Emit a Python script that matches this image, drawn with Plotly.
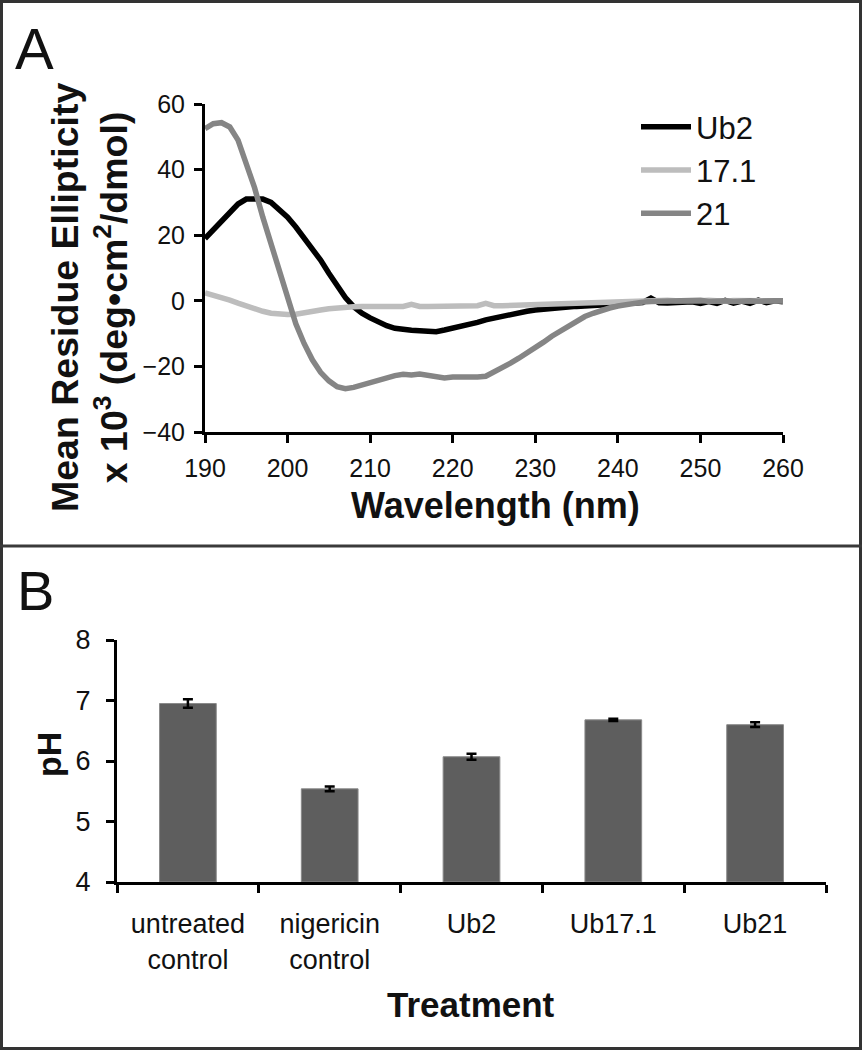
import plotly.graph_objects as go

# ---------------- Panel A data (CD spectra) ----------------
wavelength = [190, 191, 192, 193, 194, 195, 196, 197, 198, 199,
              200, 201, 202, 203, 204, 205, 206, 207, 208, 209,
              210, 211, 212, 213, 214, 215, 216, 217, 218, 219,
              220, 221, 222, 223, 224, 225, 226, 227, 228, 229,
              230, 231, 232, 233, 234, 235, 236, 237, 238, 239,
              240, 241, 242, 243, 244, 245, 246, 247, 248, 249,
              250, 251, 252, 253, 254, 255, 256, 257, 258, 259, 260]

ub2 = [19, 21.5, 24.5, 27, 29.5, 31, 31.2, 31, 30, 28,
       25.5, 22.5, 19.3, 16, 12.4, 8.4, 4.6, 1, -1.8, -3.8,
       -5.2, -6.5, -7.6, -8.4, -8.8, -9, -9.1, -9.2, -9.4, -8.9,
       -8.4, -7.9, -7.4, -6.6, -5.8, -5.2, -4.7, -4.1, -3.6, -3.2,
       -2.8, -2.5, -2.2, -2.0, -1.8, -1.7, -1.6, -1.5, -1.4, -1.2,
       -1.0, -0.8, -0.7, -0.5, 0.8, -0.6, -0.7, -0.7, -0.7, -0.3,
       -0.8, -0.2, -0.8, 0.1, -0.7, -0.1, -0.8, 0.2, -0.6, 0, -0.3]

s17_1 = [2.4, 1.8, 1.0, 0.2, -0.7, -1.6, -2.5, -3.2, -3.8, -4.1,
         -4.2, -4.1, -3.8, -3.3, -2.8, -2.4, -2.1, -1.9, -1.8, -1.7,
         -1.7, -1.7, -1.6, -1.7, -1.7, -1.1, -1.7, -1.7, -1.6, -1.6,
         -1.6, -1.6, -1.6, -1.5, -0.8, -1.5, -1.5, -1.4, -1.3, -1.3,
         -1.2, -1.2, -0.9, -1.1, -0.8, -1.0, -0.9, -0.8, -0.6, -0.5,
         -0.4, -0.3, -0.2, -0.1, 0, 0, 0.2, 0, -0.1, 0.1,
         0, 0.2, 0, -0.1, 0.1, 0, 0.2, 0, 0.1, 0, 0]

s21 = [52.5, 54, 54.3, 53, 49, 42, 34.5, 25.5, 17.5, 9.5,
       1, -7, -13, -18, -21.8, -24.4, -26.2, -26.8, -26.4, -25.6,
       -24.8, -24, -23.4, -22.8, -22.4, -22.6, -22.3, -22.7, -23.2, -23.5,
       -23.2, -23.3, -23.2, -23.2, -23, -21.8, -20.5, -19, -17.5, -16,
       -14.3, -12.6, -10.8, -9.2, -7.5, -6, -4.8, -3.8, -2.8, -2.2,
       -1.6, -1.1, -0.7, -0.4, -0.2, -0.1, 0, 0.1, -0.1, 0,
       0.2, -0.2, 0.1, 0, -0.2, 0.1, 0, -0.1, 0.1, 0, 0]

series_names = ["Ub2", "17.1", "21"]
series_colors = ["#000000", "#bdbdbd", "#858585"]

# ---------------- Panel B data (pH) ----------------
treatments = ["untreated<br>control", "nigericin<br>control", "Ub2", "Ub17.1", "Ub21"]
ph_mean = [6.95, 5.54, 6.07, 6.68, 6.60]
ph_err = [0.07, 0.04, 0.05, 0.02, 0.04]

FONT = "Liberation Sans, Arial, sans-serif"
W, H = 862, 1050

def px_x(p):
    return p / W

def px_y(p):
    return 1 - p / H

fig = go.Figure()

for name, vals, col in zip(series_names, [ub2, s17_1, s21], series_colors):
    fig.add_trace(go.Scatter(
        x=wavelength, y=vals, mode="lines", name=name,
        line=dict(color=col, width=5.5),
        legendgroup=name,
        xaxis="x", yaxis="y",
    ))

fig.add_trace(go.Bar(
    x=treatments, y=[m - 4 for m in ph_mean], base=4,
    marker=dict(color="#5e5e5e", line=dict(color="#8a8a8a", width=1)),
    width=0.4,
    error_y=dict(type="data", array=ph_err, color="#000000", thickness=2.5, width=5),
    showlegend=False,
    xaxis="x2", yaxis="y2",
))

axis_common = dict(
    showline=True, linecolor="#000000", linewidth=3,
    ticks="outside", ticklen=8, tickwidth=2.5, tickcolor="#000000",
    showgrid=False, zeroline=False, mirror=False, automargin=False,
)

fig.update_layout(
    template="none",
    width=W, height=H,
    margin=dict(l=0, r=0, t=0, b=0, pad=0, autoexpand=False),
    paper_bgcolor="white", plot_bgcolor="white",
    font=dict(family=FONT, color="#111111"),
    xaxis=dict(domain=[px_x(205), px_x(783)], range=[190, 260], dtick=10,
               anchor="y", tickfont=dict(size=25), ticklabelstandoff=4,
               **axis_common),
    yaxis=dict(domain=[px_y(432), px_y(104)], range=[-40, 60], dtick=20,
               anchor="x", tickfont=dict(size=25), ticklabelstandoff=4,
               **axis_common),
    xaxis2=dict(domain=[px_x(117), px_x(826)], anchor="y2", type="category",
                tickson="boundaries", tickfont=dict(size=27), ticklabelstandoff=16,
                **axis_common),
    yaxis2=dict(domain=[px_y(882), px_y(640)], range=[4, 8], dtick=1,
                anchor="x2", tickfont=dict(size=27), ticklabelstandoff=10,
                **axis_common),
    legend=dict(x=px_x(636), y=px_y(100), xanchor="left", yanchor="top",
                font=dict(size=31, family=FONT, color="#111111"),
                bgcolor="rgba(0,0,0,0)", borderwidth=0,
                tracegroupgap=0, itemwidth=50),
    showlegend=True,
    bargap=0.6,
)

annotations = [
    dict(text="A", x=px_x(34), y=px_y(49), font=dict(size=58, family=FONT, color="#111111")),
    dict(text="B", x=px_x(35), y=px_y(590), font=dict(size=56, family=FONT, color="#111111")),
    dict(text="<b>Mean Residue Ellipticity</b><br><b>x 10<sup>3</sup> (deg•cm<sup>2</sup>/dmol)</b>",
         x=px_x(90), y=px_y(298), textangle=-90,
         font=dict(size=37.5, family=FONT, color="#111111")),
    dict(text="<b>Wavelength (nm)</b>", x=px_x(495), y=px_y(506),
         font=dict(size=36, family=FONT, color="#111111")),
    dict(text="<b>Treatment</b>", x=px_x(471), y=px_y(1004),
         font=dict(size=35, family=FONT, color="#111111")),
    dict(text="<b>pH</b>", x=px_x(49), y=px_y(755), textangle=-90,
         font=dict(size=34, family=FONT, color="#111111")),
]
for a in annotations:
    a.update(xref="paper", yref="paper", showarrow=False, xanchor="center", yanchor="middle")
fig.update_layout(annotations=annotations)

fig.update_layout(shapes=[
    dict(type="rect", xref="paper", yref="paper", x0=0, x1=1, y0=0, y1=1,
         line=dict(color="#333333", width=6), fillcolor="rgba(0,0,0,0)"),
    dict(type="line", xref="paper", yref="paper", x0=0, x1=1, y0=px_y(546), y1=px_y(546),
         line=dict(color="#3a3a3a", width=3)),
])

fig.write_html(
    "out.html",
    config={"displayModeBar": False},
    post_script="document.body.style.margin='0';document.body.style.padding='0';"
                "document.body.style.overflow='hidden';",
)
